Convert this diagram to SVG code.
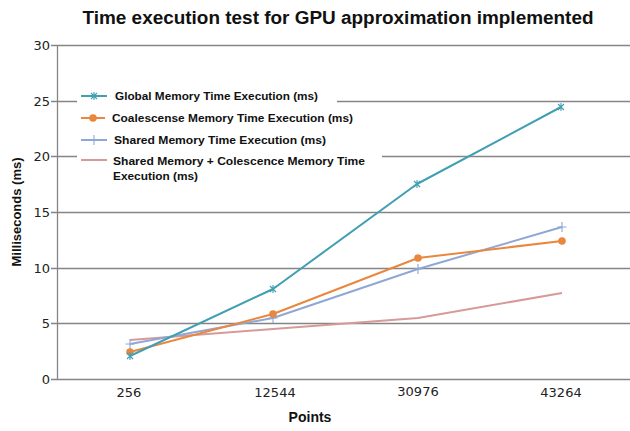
<svg xmlns="http://www.w3.org/2000/svg" width="630" height="431" viewBox="0 0 630 431">
<style>
.grid{stroke:#858585;stroke-width:1.3;fill:none}
.tick{font-family:"DejaVu Sans","Liberation Sans",sans-serif;font-size:13px;fill:#222}
.leg{font-family:"Liberation Sans",Arial,sans-serif;font-weight:bold;font-size:11.5px;fill:#111}
.ttl{font-family:"Liberation Sans",Arial,sans-serif;font-weight:bold;fill:#111}
.s{fill:none;stroke-width:2;stroke-linejoin:round}
.g{stroke:#409fb3}.o{stroke:#e8873d}.b{stroke:#8fa7d6}.p{stroke:#d79a98}
</style>
<defs>
<g id="mStar" class="g" style="stroke-width:1.1;fill:none"><path d="M-3,-3L3,3M-3,3L3,-3M0,-4L0,4"/></g>
<circle id="mDot" r="3.8" fill="#e8873d"/>
<g id="mPlus" class="b" style="stroke-width:1.1;fill:none"><path d="M-4.5,0H4.5M0,-5V5"/></g>
</defs>
<rect width="630" height="431" fill="#fff"/>
<text class="ttl" x="338" y="24" font-size="18" text-anchor="middle" textLength="511" lengthAdjust="spacingAndGlyphs">Time execution test for GPU approximation implemented</text>
<g id="gridlines">
<path class="grid" d="M51,45.5H630M51,101.5H77M337,101.5H630M51,156.5H77M382,156.5H630M51,212.5H630M51,268.5H630M51,323.5H630M51,379.5H630M57.5,45V380"/>
</g>
<g id="yaxis">
<text class="tick" x="50" y="50" text-anchor="end">30</text>
<text class="tick" x="50" y="106" text-anchor="end">25</text>
<text class="tick" x="50" y="161" text-anchor="end">20</text>
<text class="tick" x="50" y="217" text-anchor="end">15</text>
<text class="tick" x="50" y="273" text-anchor="end">10</text>
<text class="tick" x="50" y="328" text-anchor="end">5</text>
<text class="tick" x="50" y="384" text-anchor="end">0</text>
<text class="ttl" font-size="13.5" transform="translate(21,212) rotate(-90)" text-anchor="middle" textLength="109" lengthAdjust="spacingAndGlyphs">Milliseconds (ms)</text>
</g>
<g id="xaxis">
<text class="tick" x="129" y="397" text-anchor="middle">256</text>
<text class="tick" x="275" y="397" text-anchor="middle">12544</text>
<text class="tick" x="418" y="396" text-anchor="middle">30976</text>
<text class="tick" x="561" y="397" text-anchor="middle">43264</text>
<text class="ttl" font-size="14" x="310" y="422" text-anchor="middle">Points</text>
</g>
<g id="connectors">
<polyline id="s-pink" class="s p" points="130,340 273,329 418,318 562,293"/>
<polyline id="s-blue" class="s b" points="130,344 273,318 418,269 562,227"/>
<polyline id="s-orange" class="s o" points="130,352 273,314 418,258 562,241"/>
<polyline id="s-global" class="s g" points="130,356 273,289 417,184 561,107"/>
</g>
<g id="markers">
<use href="#mPlus" x="130" y="344"/><use href="#mPlus" x="273" y="318"/><use href="#mPlus" x="418" y="269"/><use href="#mPlus" x="562" y="227"/>
<use href="#mDot" x="130" y="352"/><use href="#mDot" x="273" y="314"/><use href="#mDot" x="418" y="258"/><use href="#mDot" x="562" y="241"/>
<use href="#mStar" x="130" y="356"/><use href="#mStar" x="273" y="289"/><use href="#mStar" x="417" y="184"/><use href="#mStar" x="561" y="107"/>
</g>
<g id="legend">
<g id="leg-global"><path class="s g" d="M81,96H107"/><use href="#mStar" x="94" y="96"/><text class="leg" x="115" y="100" textLength="203" lengthAdjust="spacingAndGlyphs">Global Memory Time Execution (ms)</text></g>
<g id="leg-orange"><path class="s o" d="M81,118H105"/><use href="#mDot" x="93" y="118"/><text class="leg" x="112" y="122" textLength="241" lengthAdjust="spacingAndGlyphs">Coalescense Memory Time Execution (ms)</text></g>
<g id="leg-blue"><path class="s b" d="M81,140H107"/><use href="#mPlus" x="94" y="140"/><text class="leg" x="114" y="144" textLength="212" lengthAdjust="spacingAndGlyphs">Shared Memory Time Execution (ms)</text></g>
<g id="leg-pink"><path class="s p" d="M81,160H107"/><text class="leg" x="113" y="165" textLength="252" lengthAdjust="spacingAndGlyphs">Shared Memory + Colescence Memory Time</text><text class="leg" x="113" y="180" textLength="85" lengthAdjust="spacingAndGlyphs">Execution (ms)</text></g>
</g>
</svg>
